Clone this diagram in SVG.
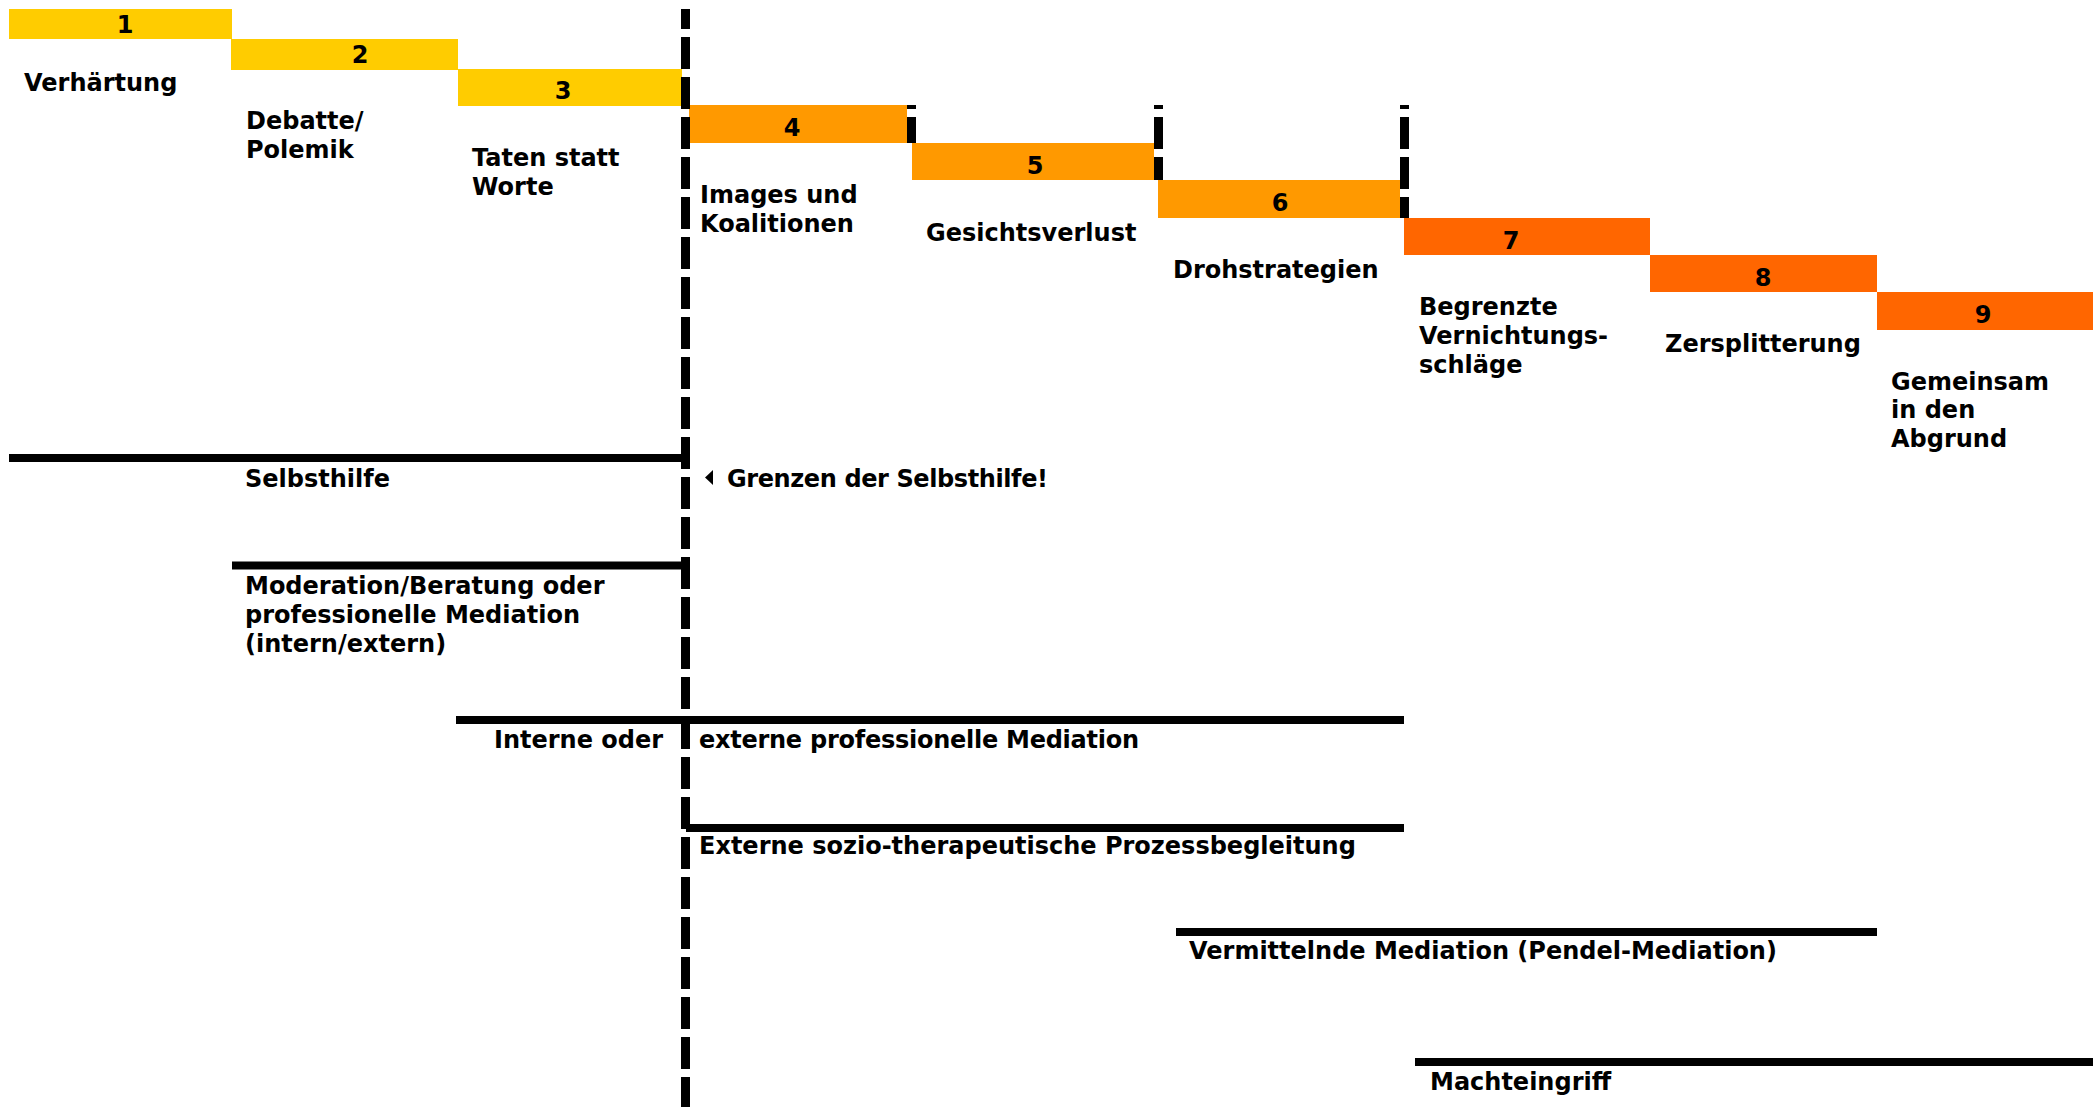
<svg xmlns="http://www.w3.org/2000/svg" width="2099" height="1107" viewBox="0 0 2099 1107">
<style>
text{font-family:"DejaVu Sans","Verdana",sans-serif;font-weight:bold;font-size:24px;fill:#000}
.num{text-anchor:middle}
.y{fill:#FFCC00}
.o{fill:#FF9900}
.r{fill:#FF6600}
.hl{stroke:#000;stroke-width:8;fill:none}
.dash{stroke:#000;stroke-width:9;fill:none;stroke-dasharray:32 8}
</style>
<rect width="2099" height="1107" fill="#fff"/>

<g id="stage1">
<rect class="y" x="9" y="9" width="223" height="30"/>
<text class="num" x="125" y="33">1</text>
<text x="24" y="91">Verhärtung</text>
</g>
<g id="stage2">
<rect class="y" x="231" y="39" width="227" height="31"/>
<text class="num" x="360" y="63">2</text>
<text x="246" y="129">Debatte/</text>
<text x="246" y="158">Polemik</text>
</g>
<g id="stage3">
<rect class="y" x="458" y="69" width="224" height="37"/>
<text class="num" x="563" y="99">3</text>
<text x="472" y="166">Taten statt</text>
<text x="472" y="195">Worte</text>
</g>
<g id="stage4">
<rect class="o" x="689" y="105" width="218" height="38"/>
<text class="num" x="792" y="136">4</text>
<text x="700" y="203">Images und</text>
<text x="700" y="232">Koalitionen</text>
</g>
<g id="stage5">
<rect class="o" x="912" y="143" width="242" height="37"/>
<text class="num" x="1035" y="174">5</text>
<text x="926" y="241">Gesichtsverlust</text>
</g>
<g id="stage6">
<rect class="o" x="1158" y="180" width="242" height="38"/>
<text class="num" x="1280" y="211">6</text>
<text x="1173" y="278">Drohstrategien</text>
</g>
<g id="stage7">
<rect class="r" x="1404" y="218" width="246" height="37"/>
<text class="num" x="1511" y="249">7</text>
<text x="1419" y="315">Begrenzte</text>
<text x="1419" y="344">Vernichtungs-</text>
<text x="1419" y="373">schläge</text>
</g>
<g id="stage8">
<rect class="r" x="1650" y="255" width="227" height="37"/>
<text class="num" x="1763" y="286">8</text>
<text x="1665" y="352">Zersplitterung</text>
</g>
<g id="stage9">
<rect class="r" x="1877" y="292" width="216" height="38"/>
<text class="num" x="1983" y="323">9</text>
<text x="1891" y="390">Gemeinsam</text>
<text x="1891" y="418">in den</text>
<text x="1891" y="447">Abgrund</text>
</g>

<g id="connectors">
<line class="dash" x1="685.5" y1="9" x2="685.5" y2="1107" stroke-dashoffset="12"/>
<line class="dash" x1="911.5" y1="105" x2="911.5" y2="143" stroke-dashoffset="28"/>
<line class="dash" x1="1158.5" y1="105" x2="1158.5" y2="180" stroke-dashoffset="28"/>
<line class="dash" x1="1404.5" y1="105" x2="1404.5" y2="218" stroke-dashoffset="28"/>
</g>

<g id="selbsthilfe">
<line class="hl" x1="9" y1="458" x2="687" y2="458"/>
<text x="245" y="487">Selbsthilfe</text>
</g>
<g id="grenzen">
<polygon points="705,477.5 713,470 713,485" fill="#000"/>
<text x="727" y="487" textLength="321" lengthAdjust="spacing">Grenzen der Selbsthilfe!</text>
</g>
<g id="moderation">
<line class="hl" x1="232" y1="565.5" x2="687" y2="565.5"/>
<text x="245" y="594">Moderation/Beratung oder</text>
<text x="245" y="623">professionelle Mediation</text>
<text x="245" y="652">(intern/extern)</text>
</g>
<g id="mediation">
<line class="hl" x1="456" y1="720" x2="1404" y2="720"/>
<text x="494" y="748">Interne oder</text>
<text x="699" y="748" textLength="440" lengthAdjust="spacing">externe professionelle Mediation</text>
</g>
<g id="prozessbegleitung">
<line class="hl" x1="686" y1="828" x2="1404" y2="828"/>
<text x="699" y="854">Externe sozio-therapeutische Prozessbegleitung</text>
</g>
<g id="vermittelnde">
<line class="hl" x1="1176" y1="932" x2="1877" y2="932"/>
<text x="1189" y="959">Vermittelnde Mediation (Pendel-Mediation)</text>
</g>
<g id="machteingriff">
<line class="hl" x1="1415" y1="1062" x2="2093" y2="1062"/>
<text x="1430" y="1090">Machteingriff</text>
</g>
</svg>
